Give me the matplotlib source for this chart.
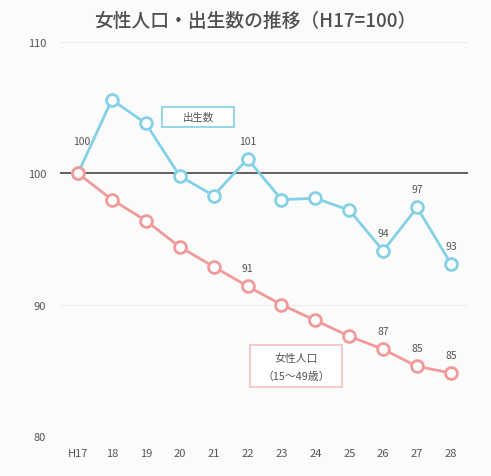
import matplotlib
matplotlib.use("Agg")
import matplotlib.pyplot as plt
from matplotlib.patches import Rectangle

plt.rcParams['font.family'] = ['Noto Sans CJK JP', 'DejaVu Sans']

years = ["H17", "18", "19", "20", "21", "22", "23", "24", "25", "26", "27", "28"]
births = [100, 105.6, 103.8, 99.8, 98.3, 101.1, 98.0, 98.1, 97.2, 94.1, 97.4, 93.1]
women = [100, 98.0, 96.4, 94.4, 92.9, 91.4, 90.0, 88.8, 87.6, 86.6, 85.3, 84.8]

# which points get a value label
births_labeled = [0, 5, 9, 10, 11]
women_labeled = [5, 9, 10, 11]

BLUE = "#84d0e6"
RED = "#f09a9a"
TXT = "#555555"

fig = plt.figure(figsize=(4.91, 4.77), dpi=100, facecolor="#fbfbfb")
ax = fig.add_axes([60 / 491, 40 / 477, 408 / 491, 394 / 477])
ax.set_facecolor("#fbfbfb")

x = list(range(len(years)))

ax.axhline(100, color="#606060", lw=1.4, zorder=1)
for y in [90, 110]:
    ax.axhline(y, color="#eeeeee", lw=0.8, zorder=0)

mk = dict(marker="o", markersize=8.5, markerfacecolor="white", markeredgewidth=2, lw=2, zorder=3)
ax.plot(x, births, color=BLUE, markeredgecolor=BLUE, **mk)
ax.plot(x, women, color=RED, markeredgecolor=RED, **mk)

for i in births_labeled:
    dy = 23 if i == 0 else 13
    ax.annotate(f"{births[i]:.0f}", (x[i], births[i]), xytext=(3 if i == 0 else 0, dy),
                textcoords="offset points", ha="center", va="center", fontsize=7.5, color=TXT)
for i in women_labeled:
    ax.annotate(f"{women[i]:.0f}", (x[i], women[i]), xytext=(0, 13),
                textcoords="offset points", ha="center", va="center", fontsize=7.5, color=TXT)

# series name boxes
ax.add_patch(Rectangle((3.54 - 1.05, 104.3 - 0.77), 2.1, 1.54, fc="white", ec=BLUE,
                       lw=1.2, zorder=4))
ax.text(3.54, 104.3, "出生数", ha="center", va="center", fontsize=7.5, color=TXT, zorder=5)

ax.add_patch(Rectangle((6.43 - 1.36, 85.3 - 1.6), 2.72, 3.2, fc="white", ec="#f2c0c0",
                       lw=1.2, zorder=4))
ax.text(6.43, 85.3, "女性人口\n（15～49歳）", ha="center", va="center", fontsize=7.8,
        color=TXT, linespacing=1.9, zorder=5)

ax.set_xlim(-0.53, 11.5)
ax.set_ylim(80, 110)
ax.set_yticks([80, 90, 100, 110])
ax.set_xticks(x)
ax.set_xticklabels(years)
ax.tick_params(length=0, colors=TXT, labelsize=8)
ax.tick_params(axis="y", pad=10)
ax.tick_params(axis="x", pad=9)
for s in ax.spines.values():
    s.set_visible(False)

fig.text(0.52, 0.955, "女性人口・出生数の推移（H17=100）", ha="center", va="center",
         fontsize=13.5, color="#505050", fontweight="medium")

fig.savefig("out.png", dpi=100, facecolor=fig.get_facecolor())
